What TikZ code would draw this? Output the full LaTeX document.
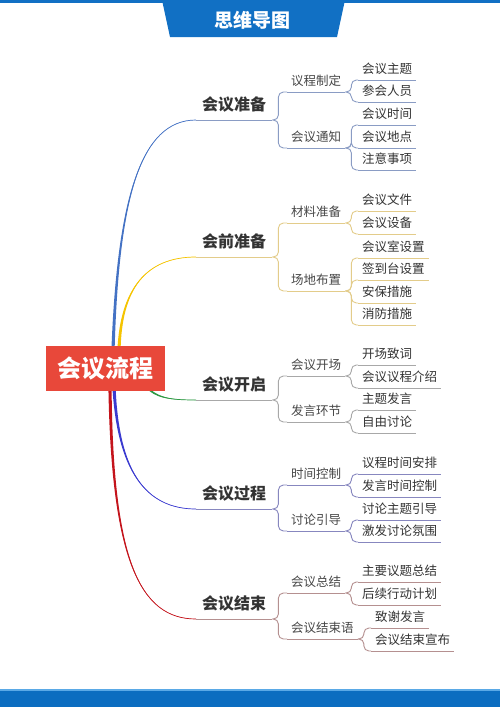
\documentclass[tikz,border=0pt]{standalone}
\usepackage{fontspec}
\newfontfamily\cjk{Noto Sans CJK SC}
\usetikzlibrary{calc}
\pgfdeclarelayer{bg}
\pgfsetlayers{bg,main}
\definecolor{bannerblue}{HTML}{1170C4}
\definecolor{barblue}{HTML}{0B6DC0}
\definecolor{barlight}{HTML}{5AA9E6}
\definecolor{centerred}{HTML}{E8483A}
\definecolor{ca}{HTML}{4472C4}\definecolor{la}{HTML}{8A9CC4}
\definecolor{cb}{HTML}{F5C400}\definecolor{lb}{HTML}{E3CC8A}
\definecolor{cc}{HTML}{2E9A44}\definecolor{lc}{HTML}{A8A8A8}
\definecolor{cd}{HTML}{3B3BD0}\definecolor{ld}{HTML}{8787BF}
\definecolor{ce}{HTML}{C4141C}\definecolor{le}{HTML}{B59090}
\tikzset{
  mainnode/.style={anchor=south west, inner xsep=6pt, inner ysep=6pt,
    font=\cjk\bfseries\fontsize{16}{16}\selectfont, text=black!80,
    text height=13pt, text depth=3pt},
  subnode/.style={anchor=south west, inner xsep=4pt, inner ysep=4pt,
    font=\cjk\fontsize{12.5}{12.5}\selectfont, text=black!72,
    text height=10pt, text depth=2.5pt},
  leafnode/.style={subnode, text=black!80},
  uline/.style={line width=0.9pt},
}
\newcommand\myul[2]{\draw[uline,#1] (#2.south west) -- (#2.south east);}
\newcommand\myconn[3]{\draw[uline,#1,rounded corners=5pt] (#2.south east) -- ++(6,0) |- (#3.south west);}
\newcommand\mybranch[6]{%
  \fill[#1] ($(#2)-(#6)$) .. controls ($(#3)-0.5*(#6)$) and (#4) .. (#5.south west)
     .. controls (#4) and ($(#3)+0.5*(#6)$) .. ($(#2)+(#6)$) -- cycle;
  \draw[#1, line width=0.7pt] (#2) .. controls (#3) and (#4) .. (#5.south west);
}
\begin{document}
\begin{tikzpicture}[x=1pt,y=-1pt]
\useasboundingbox (0,0) rectangle (500,707);
\begin{pgfonlayer}{bg}
\fill[white] (0,0) rectangle (500,707);
\end{pgfonlayer}
% banner
\fill[bannerblue] (0,0) rectangle (500,3);
\fill[bannerblue] (162,0) -- (345,0) -- (337,37) -- (170,37) -- cycle;
\node[text=white, font=\cjk\bfseries\fontsize{19}{19}\selectfont] (title) at (252,20) {思维导图};
% bottom bar
\fill[barlight] (0,689) rectangle (500,691);
\fill[barblue] (0,691) rectangle (500,707);
% center
\node[fill=centerred, minimum width=119pt, minimum height=45pt, inner sep=0pt,
  text=white, font=\cjk\bfseries\fontsize{24}{24}\selectfont] (c) at (105.5,368.5) {会议流程};
\coordinate (s1) at ($(c.north)+(7.5,4)$);
\coordinate (s2) at ($(c.north)+(13.5,4)$);
\coordinate (s3) at ($(c.center)+(39.5,16.5)$);
\coordinate (s4) at ($(c.south)+(8.5,-4)$);
\coordinate (s5) at ($(c.south)+(4.5,-4)$);
% main nodes
\node[mainnode] (m1) at (196,120) {会议准备};
\node[mainnode] (m2) at (196,257) {会前准备};
\node[mainnode] (m3) at (196,400) {会议开启};
\node[mainnode] (m4) at (196,509) {会议过程};
\node[mainnode] (m5) at (196,619) {会议结束};
\begin{pgfonlayer}{bg}
\mybranch{ca}{s1}{118,200}{140,120}{m1}{1.6,0}
\mybranch{cb}{s2}{121,290}{145,257}{m2}{1.6,0}
\mybranch{cc}{s3}{155,398}{170,400}{m3}{0,1.6}
\mybranch{cd}{s4}{118,470}{145,509}{m4}{1.6,0}
\mybranch{ce}{s5}{112,560}{140,619}{m5}{1.6,0}
\end{pgfonlayer}
% ---------- group 1
\node[subnode] (a1) at (287,92) {议程制定};
\node[subnode] (a2) at (287,148) {会议通知};
\node[leafnode] (a11) at (358,80) {会议主题};
\node[leafnode] (a12) at (358,102) {参会人员};
\node[leafnode] (a21) at (358,125) {会议时间};
\node[leafnode] (a22) at (358,148) {会议地点};
\node[leafnode] (a23) at (358,170) {注意事项};
\myul{la}{m1}
\foreach \n in {a1,a2,a11,a12,a21,a22,a23}{\myul{la}{\n}}
\myconn{la}{m1}{a1}\myconn{la}{m1}{a2}
\myconn{la}{a1}{a11}\myconn{la}{a1}{a12}
\myconn{la}{a2}{a21}\myconn{la}{a2}{a22}\myconn{la}{a2}{a23}
% ---------- group 2
\node[subnode] (b1) at (287,223) {材料准备};
\node[subnode] (b2) at (287,291) {场地布置};
\node[leafnode] (b11) at (358,211) {会议文件};
\node[leafnode] (b12) at (358,234) {会议设备};
\node[leafnode] (b21) at (358,258) {会议室设置};
\node[leafnode] (b22) at (358,280) {签到台设置};
\node[leafnode] (b23) at (358,303) {安保措施};
\node[leafnode] (b24) at (358,325) {消防措施};
\myul{lb}{m2}
\foreach \n in {b1,b2,b11,b12,b21,b22,b23,b24}{\myul{lb}{\n}}
\myconn{lb}{m2}{b1}\myconn{lb}{m2}{b2}
\myconn{lb}{b1}{b11}\myconn{lb}{b1}{b12}
\myconn{lb}{b2}{b21}\myconn{lb}{b2}{b22}\myconn{lb}{b2}{b23}\myconn{lb}{b2}{b24}
% ---------- group 3
\node[subnode] (d1) at (287,376) {会议开场};
\node[subnode] (d2) at (287,422) {发言环节};
\node[leafnode] (d11) at (358,365) {开场致词};
\node[leafnode] (d12) at (358,388) {会议议程介绍};
\node[leafnode] (d21) at (358,410) {主题发言};
\node[leafnode] (d22) at (358,433) {自由讨论};
\myul{lc}{m3}
\foreach \n in {d1,d2,d11,d12,d21,d22}{\myul{lc}{\n}}
\myconn{lc}{m3}{d1}\myconn{lc}{m3}{d2}
\myconn{lc}{d1}{d11}\myconn{lc}{d1}{d12}
\myconn{lc}{d2}{d21}\myconn{lc}{d2}{d22}
% ---------- group 4
\node[subnode] (e1) at (287,485) {时间控制};
\node[subnode] (e2) at (287,531) {讨论引导};
\node[leafnode] (e11) at (358,474) {议程时间安排};
\node[leafnode] (e12) at (358,497) {发言时间控制};
\node[leafnode] (e21) at (358,520) {讨论主题引导};
\node[leafnode] (e22) at (358,542) {激发讨论氛围};
\myul{ld}{m4}
\foreach \n in {e1,e2,e11,e12,e21,e22}{\myul{ld}{\n}}
\myconn{ld}{m4}{e1}\myconn{ld}{m4}{e2}
\myconn{ld}{e1}{e11}\myconn{ld}{e1}{e12}
\myconn{ld}{e2}{e21}\myconn{ld}{e2}{e22}
% ---------- group 5
\node[subnode] (f1) at (287,593) {会议总结};
\node[subnode] (f2) at (287,639) {会议结束语};
\node[leafnode] (f11) at (358,582) {主要议题总结};
\node[leafnode] (f12) at (358,605) {后续行动计划};
\node[leafnode] (f21) at (371,628) {致谢发言};
\node[leafnode] (f22) at (371,651) {会议结束宣布};
\myul{le}{m5}
\foreach \n in {f1,f2,f11,f12,f21,f22}{\myul{le}{\n}}
\myconn{le}{m5}{f1}\myconn{le}{m5}{f2}
\myconn{le}{f1}{f11}\myconn{le}{f1}{f12}
\myconn{le}{f2}{f21}\myconn{le}{f2}{f22}
\end{tikzpicture}
\end{document}
